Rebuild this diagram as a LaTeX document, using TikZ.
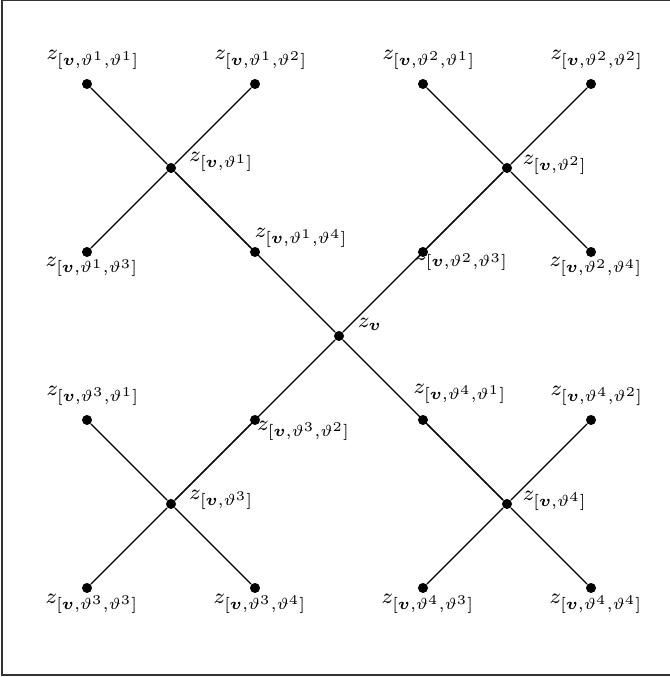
\documentclass[tikz,border=0pt]{standalone}
\usepackage{bm}
\usepackage{graphicx}
\newcommand{\zlab}[1]{\scalebox{0.91}{$z_{#1}$}}
\begin{document}
\begin{tikzpicture}[
  dot/.style={circle,fill=black,inner sep=0pt,minimum size=3.4pt},
  lbl/.style={inner sep=0pt,font=\fontsize{8}{10}\selectfont},
  edge/.style={line width=0.4pt}
]
\useasboundingbox (-1.036,1.0) rectangle (6.929,-7.06);
\draw[line width=0.6pt,black!80] (7.5,1.0) -- (-1.012,1.0) -- (-1.012,-7.036) -- (7.5,-7.036);
% centre and children
\node[dot,label={[lbl,xshift=0.37cm,yshift=0.14cm]center:\zlab{\bm{v}}}] (c) at (3,-3) {};
\node[dot,label={[lbl,xshift=0.6cm,yshift=0.07cm]center:\zlab{[\bm{v},\vartheta^1]}}] (t1) at (1,-1) {};
\node[dot,label={[lbl,xshift=0.57cm,yshift=0.04cm]center:\zlab{[\bm{v},\vartheta^2]}}] (t2) at (5,-1) {};
\node[dot,label={[lbl,xshift=0.6cm,yshift=0.05cm]center:\zlab{[\bm{v},\vartheta^3]}}] (t3) at (1,-5) {};
\node[dot,label={[lbl,xshift=0.57cm,yshift=0.04cm]center:\zlab{[\bm{v},\vartheta^4]}}] (t4) at (5,-5) {};
% leaves of t1
\node[dot,label={[lbl,xshift=0.07cm,yshift=0.29cm]center:\zlab{[\bm{v},\vartheta^1,\vartheta^1]}}] (l11) at (0,0) {};
\node[dot,label={[lbl,xshift=0.07cm,yshift=0.29cm]center:\zlab{[\bm{v},\vartheta^1,\vartheta^2]}}] (l12) at (2,0) {};
\node[dot,label={[lbl,xshift=0.06cm,yshift=-0.18cm]center:\zlab{[\bm{v},\vartheta^1,\vartheta^3]}}] (l13) at (0,-2) {};
\node[dot,label={[lbl,xshift=0.55cm,yshift=0.17cm]center:\zlab{[\bm{v},\vartheta^1,\vartheta^4]}}] (l14) at (2,-2) {};
% leaves of t2
\node[dot,label={[lbl,xshift=0.07cm,yshift=0.29cm]center:\zlab{[\bm{v},\vartheta^2,\vartheta^1]}}] (l21) at (4,0) {};
\node[dot,label={[lbl,xshift=0.07cm,yshift=0.29cm]center:\zlab{[\bm{v},\vartheta^2,\vartheta^2]}}] (l22) at (6,0) {};
\node[dot,label={[lbl,xshift=0.46cm,yshift=-0.11cm]center:\zlab{[\bm{v},\vartheta^2,\vartheta^3]}}] (l23) at (4,-2) {};
\node[dot,label={[lbl,xshift=0.06cm,yshift=-0.18cm]center:\zlab{[\bm{v},\vartheta^2,\vartheta^4]}}] (l24) at (6,-2) {};
% leaves of t3
\node[dot,label={[lbl,xshift=0.07cm,yshift=0.29cm]center:\zlab{[\bm{v},\vartheta^3,\vartheta^1]}}] (l31) at (0,-4) {};
\node[dot,label={[lbl,xshift=0.58cm,yshift=-0.13cm]center:\zlab{[\bm{v},\vartheta^3,\vartheta^2]}}] (l32) at (2,-4) {};
\node[dot,label={[lbl,xshift=0.06cm,yshift=-0.19cm]center:\zlab{[\bm{v},\vartheta^3,\vartheta^3]}}] (l33) at (0,-6) {};
\node[dot,label={[lbl,xshift=0.06cm,yshift=-0.19cm]center:\zlab{[\bm{v},\vartheta^3,\vartheta^4]}}] (l34) at (2,-6) {};
% leaves of t4
\node[dot,label={[lbl,xshift=0.44cm,yshift=0.31cm]center:\zlab{[\bm{v},\vartheta^4,\vartheta^1]}}] (l41) at (4,-4) {};
\node[dot,label={[lbl,xshift=0.07cm,yshift=0.29cm]center:\zlab{[\bm{v},\vartheta^4,\vartheta^2]}}] (l42) at (6,-4) {};
\node[dot,label={[lbl,xshift=0.06cm,yshift=-0.19cm]center:\zlab{[\bm{v},\vartheta^4,\vartheta^3]}}] (l43) at (4,-6) {};
\node[dot,label={[lbl,xshift=0.06cm,yshift=-0.19cm]center:\zlab{[\bm{v},\vartheta^4,\vartheta^4]}}] (l44) at (6,-6) {};
% edges
\foreach \i in {1,2,3,4}{
  \draw[edge] (c) -- (t\i);
  \foreach \j in {1,2,3,4}{
    \draw[edge] (t\i) -- (l\i\j);
  }
}
\end{tikzpicture}
\end{document}
